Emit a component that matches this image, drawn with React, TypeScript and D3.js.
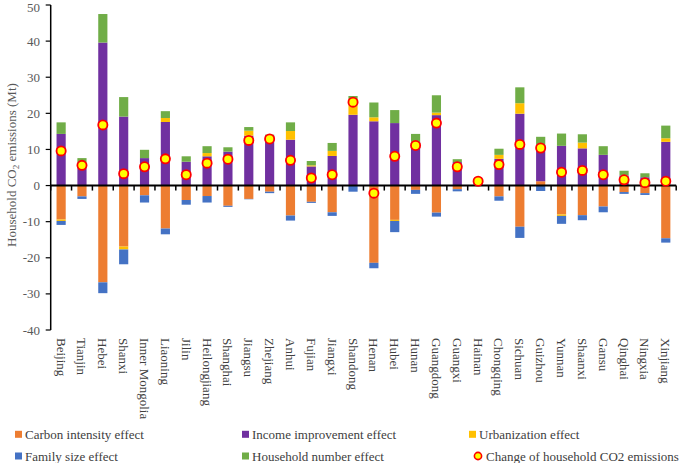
import React from "react";
import * as d3 from "d3";

const provinces = [
  "Beijing", "Tianjin", "Hebei", "Shanxi", "Inner Mongolia", "Liaoning", "Jilin",
  "Heilongjiang", "Shanghai", "Jiangsu", "Zhejiang", "Anhui", "Fujian", "Jiangxi",
  "Shandong", "Henan", "Hubei", "Hunan", "Guangdong", "Guangxi", "Hainan",
  "Chongqing", "Sichuan", "Guizhou", "Yunnan", "Shaanxi", "Gansu", "Qinghai",
  "Ningxia", "Xinjiang",
];

const carbonIntensity = [-9.4, -3.0, -26.8, -16.9, -2.7, -11.9, -4.0, -2.9, -5.6, -3.7, -1.7, -8.3, -4.5, -7.4, 0, -21.4, -9.5, -1.2, -7.5, -1.0, 0, -3.0, -11.4, 1.2, -8.0, -8.2, -5.8, -1.8, -2.1, -14.6];
const incomeImprovement = [14.3, 6.4, 39.6, 19.1, 7.6, 17.6, 6.6, 8.1, 9.4, 13.8, 13.9, 12.7, 5.3, 8.2, 19.6, 17.8, 17.3, 12.1, 19.5, 6.5, 0.9, 7.4, 19.9, 10.1, 11.0, 10.3, 8.5, 2.8, 2.3, 12.1];
const urbanization = [-0.4, 0, 0, -0.8, 0, 1.1, 0, 0.9, 0, 1.4, 0, 2.4, 0.3, 1.4, 4.4, 1.1, -0.3, 0, 0.7, 0, 0, 1.1, 2.9, 0, -0.4, 1.6, 0, 0, 0, 1.0];
const familySize = [-1.1, -0.7, -3.0, -4.1, -2.0, -1.6, -1.3, -1.8, -0.3, -0.1, -0.4, -1.4, -0.3, -1.0, -1.7, -1.5, -3.1, -1.1, -1.1, -0.6, 0, -1.2, -3.1, -1.5, -2.2, -1.4, -1.6, -0.5, -0.5, -1.2];
const householdNumber = [3.2, 1.2, 7.9, 5.4, 2.3, 1.9, 1.5, 1.9, 1.2, 1.0, 0.2, 2.4, 1.2, 2.2, 0.8, 4.1, 3.6, 2.2, 4.8, 0.8, 0.3, 1.7, 4.4, 2.2, 3.4, 2.3, 2.4, 1.3, 1.1, 3.5];
const totalChange = [9.6, 5.6, 16.8, 3.3, 5.2, 7.4, 3.0, 6.2, 7.3, 12.5, 12.9, 7.0, 2.1, 3.0, 23.1, -2.1, 8.1, 11.1, 17.3, 5.2, 1.2, 5.8, 11.4, 10.4, 3.7, 4.2, 3.0, 1.6, 0.8, 1.2];
const yTicks = [-40, -30, -20, -10, 0, 10, 20, 30, 40, 50];

const seriesKeys = ["carbon", "income", "urban", "family", "household"];
const seriesLabels = [
  "Carbon intensity effect",
  "Income improvement effect",
  "Urbanization effect",
  "Family size effect",
  "Household number effect",
];
const seriesColors = ["#ED7D31", "#7030A0", "#FFC000", "#4472C4", "#70AD47"];

const FONT = "'Liberation Serif', 'Times New Roman', serif";

export default function App() {
  const rows = provinces.map((p, i) => ({
    name: p,
    carbon: carbonIntensity[i],
    income: incomeImprovement[i],
    urban: urbanization[i],
    family: familySize[i],
    household: householdNumber[i],
    total: totalChange[i],
  }));

  const left = 50.7;
  const right = 676.2;
  const x = d3.scaleBand<string>().domain(provinces).range([left, right]).paddingInner(0.56).paddingOuter(0.28);
  const y = d3.scaleLinear().domain([-40, 50]).range([330, 5]);
  const step = x.step();

  const stack = d3.stack<any>().keys(seriesKeys).offset(d3.stackOffsetDiverging);
  const stacked = stack(rows as any);

  const y0 = y(0);

  return (
    <svg width={685} height={463} style={{ position: "absolute", left: 0, top: 0, background: "#fff" }} fontFamily={FONT}>
      {stacked.map((s, si) => (
        <g key={seriesKeys[si]} fill={seriesColors[si]}>
          {s.map((d, i) => {
            const a = y(d[0]);
            const b = y(d[1]);
            const h = Math.abs(a - b);
            if (h < 0.01) return null;
            return <rect key={i} x={x(provinces[i])} y={Math.min(a, b)} width={x.bandwidth()} height={h} />;
          })}
        </g>
      ))}
      <line x1={left} x2={left} y1={y(50)} y2={y(-40)} stroke="#000" strokeWidth={1.5} />
      {yTicks.map((t) => (
        <g key={t}>
          <line x1={left - 5} x2={left} y1={y(t)} y2={y(t)} stroke="#000" strokeWidth={1.2} />
          <text x={40} y={Math.max(y(t), 7.2)} dy="0.35em" textAnchor="end" fontSize={13} fill="#595959">
            {t}
          </text>
        </g>
      ))}
      <line x1={left} x2={right} y1={y0} y2={y0} stroke="#000" strokeWidth={2} />
      {d3.range(provinces.length + 1).map((i) => (
        <line key={i} x1={left + i * step} x2={left + i * step} y1={y0} y2={y0 + 5} stroke="#000" strokeWidth={1.5} />
      ))}
      {rows.map((r, i) => (
        <circle key={i} cx={(x(r.name) as number) + x.bandwidth() / 2} cy={y(r.total)} r={4.6} fill="#FFFF00" stroke="#FF0000" strokeWidth={1.8} />
      ))}
      {provinces.map((c) => {
        const cx = (x(c) as number) + x.bandwidth() / 2;
        return (
          <text key={c} transform={`translate(${cx - 4.5},338) rotate(90)`} fontSize={13} fill="#404040">
            {c}
          </text>
        );
      })}
      <text transform="translate(15.5,165) rotate(-90)" textAnchor="middle" fontSize={13} fill="#595959">
        Household CO<tspan fontSize={9} dy={3}>2</tspan>
        <tspan dy={-3}> emissions (Mt)</tspan>
      </text>
      {seriesLabels.map((lab, i) => {
        const col = i < 3 ? i : i - 3;
        const row = i < 3 ? 0 : 1;
        const lx = 15 + col * 227;
        const ly = row === 0 ? 434.3 : 456;
        return (
          <g key={lab}>
            <rect x={lx} y={ly - 3.5} width={7} height={7} fill={seriesColors[i]} />
            <text x={lx + 10} y={ly} dy="0.35em" fontSize={13} fill="#404040">
              {lab}
            </text>
          </g>
        );
      })}
      <g>
        <circle cx={478} cy={456} r={3.6} fill="#FFFF00" stroke="#FF0000" strokeWidth={1.6} />
        <text x={486} y={456} dy="0.35em" fontSize={13} fill="#404040">
          Change of household CO2 emissions
        </text>
      </g>
    </svg>
  );
}
